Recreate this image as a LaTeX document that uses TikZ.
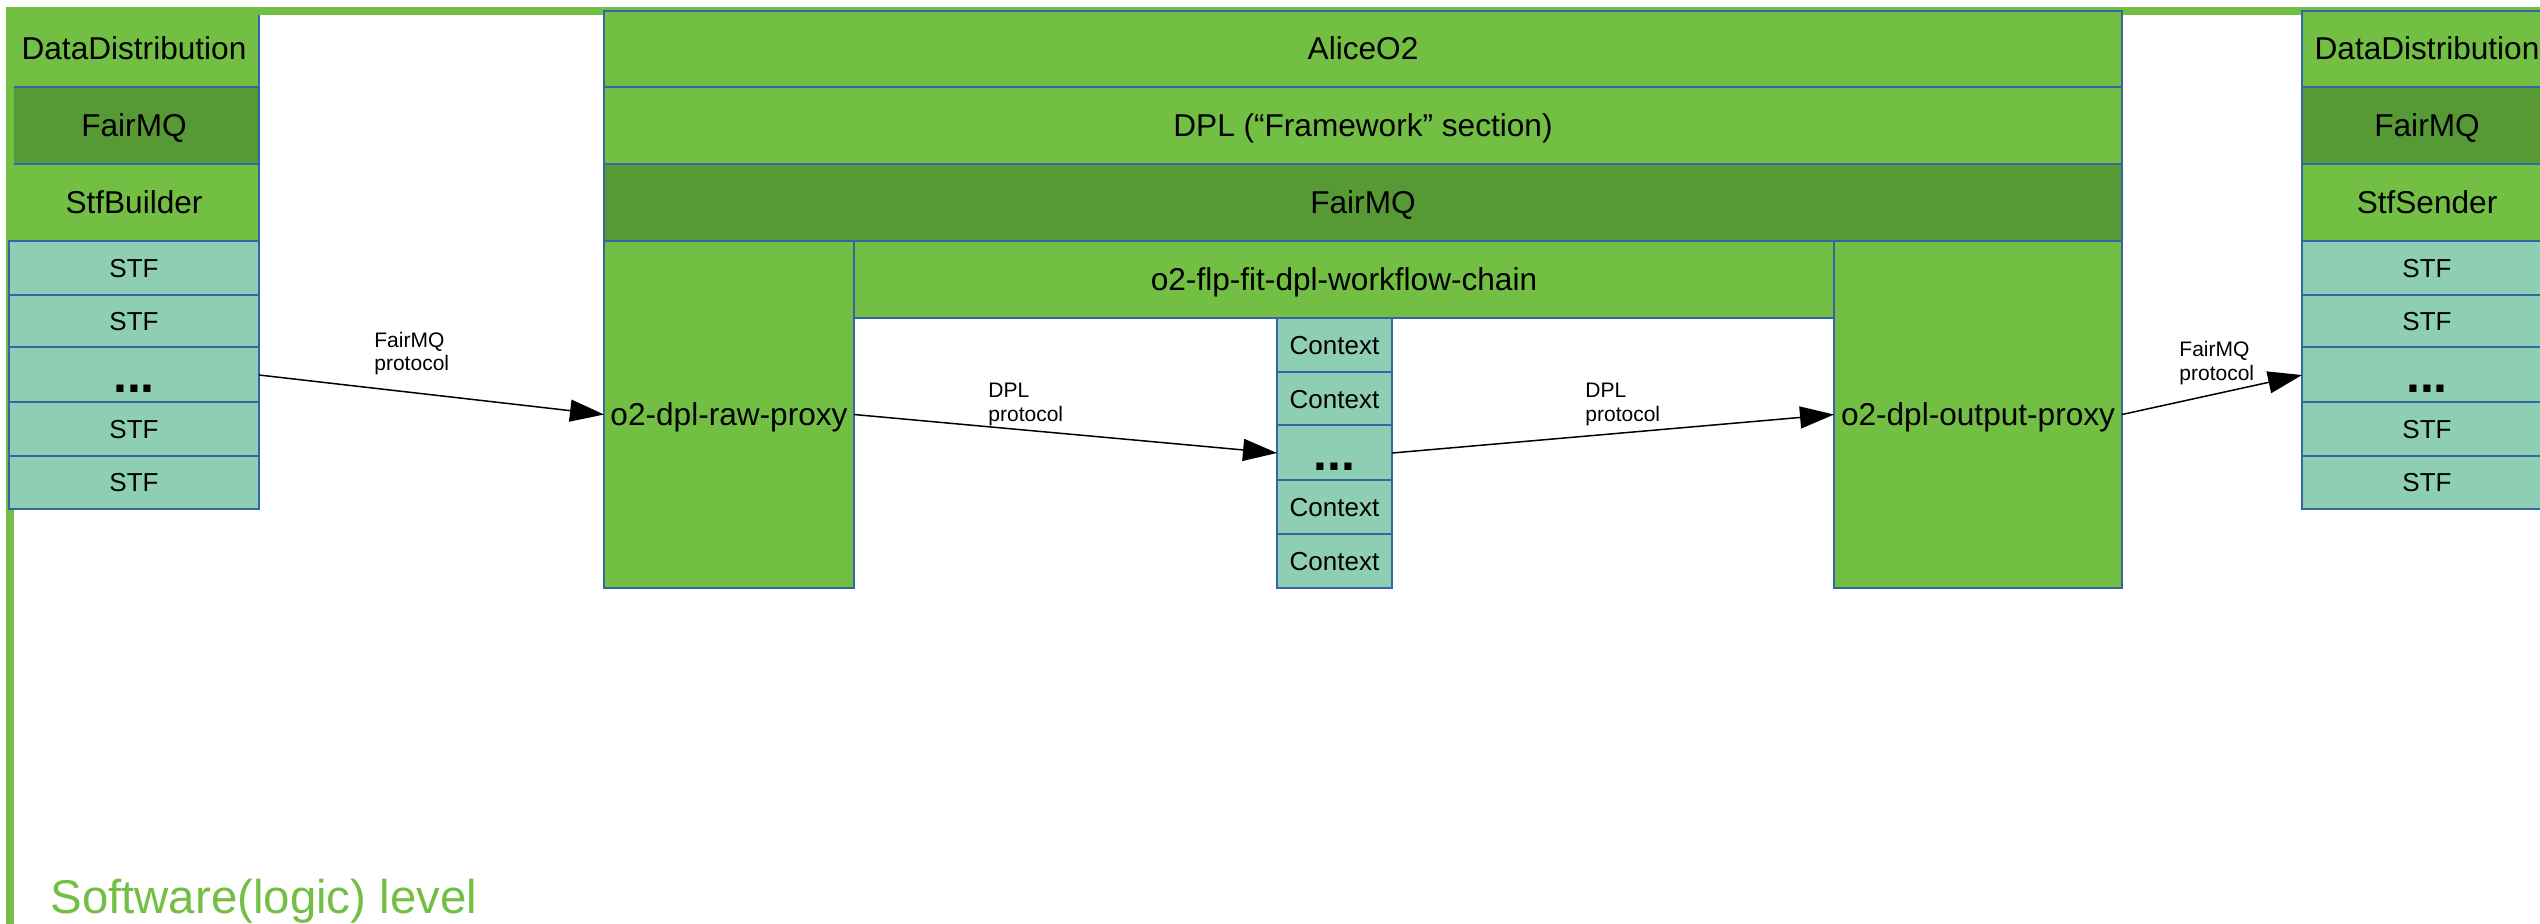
\documentclass[tikz,border=0pt]{standalone}
\usepackage{fontspec}
\setmainfont{Liberation Sans}
\usetikzlibrary{arrows.meta}
\definecolor{lgreen}{HTML}{72BF44}
\definecolor{dgreen}{HTML}{579935}
\definecolor{tealbox}{HTML}{8DCEB5}
\definecolor{bline}{HTML}{3465A4}
% \blkbox{style}{x1}{y1}{x2}{y2}{name}{text}
\newcommand{\blkbox}[7]{\node[#1, minimum width={(#4-#2)*0.5pt}, minimum height={(#5-#3)*0.5pt}] (#6) at ({(#2+#4)/2},{(#3+#5)/2}) {#7};}
\begin{document}
\begin{tikzpicture}[x=0.5pt,y=-0.5pt,
 box/.style={draw=bline, line width=0.7pt, inner sep=0pt, outer sep=0pt, anchor=center},
 big/.style={box, font=\fontsize{15.8}{18}\selectfont, text height=14.3pt, text depth=3.35pt},
 gbox/.style={big, fill=lgreen},
 dbox/.style={big, fill=dgreen},
 stfbox/.style={box, fill=tealbox, font=\fontsize{13}{15}\selectfont, text height=11.77pt, text depth=2.76pt},
 dotbox/.style={box, fill=tealbox, font=\fontsize{25}{30}\selectfont\bfseries, text height=22.6pt, text depth=5.3pt},
 lbl/.style={font=\fontsize{10.5}{12}\selectfont, inner sep=0pt, anchor=base west},
 arr/.style={line width=0.75pt, -{Triangle[length=17pt,width=11pt]}},
 frameline/.style={draw=lgreen, line width=4pt}
]
\clip (0,0) rectangle (2540,923);
% left column (upper rows, under the frame)
\blkbox{gbox}{9}{11}{259}{87}{ddl}{DataDistribution}
\blkbox{dbox}{9}{87}{259}{164}{fmql}{FairMQ}
\blkbox{gbox}{9}{164}{259}{241}{stfb}{StfBuilder}
% frame
\coordinate (fa) at (10,1000);
\coordinate (fb) at (10,11);
\coordinate (fc) at (2600,11);
\draw[frameline] (fa) -- (fb) -- (fc);
% left STF boxes
\blkbox{stfbox}{9}{241}{259}{295}{ls1}{STF}
\blkbox{stfbox}{9}{295}{259}{348}{ls2}{STF}
\blkbox{dotbox}{9}{348}{259}{402}{ldots}{...}
\blkbox{stfbox}{9}{402}{259}{456}{ls3}{STF}
\blkbox{stfbox}{9}{456}{259}{509}{ls4}{STF}
% middle
\blkbox{gbox}{604}{11}{2122}{87}{alice}{AliceO2}
\blkbox{gbox}{604}{87}{2122}{164}{dpl}{DPL (“Framework” section)}
\blkbox{dbox}{604}{164}{2122}{241}{fmqm}{FairMQ}
\blkbox{gbox}{604}{241}{854}{588}{raw}{o2-dpl-raw-proxy}
\blkbox{gbox}{854}{241}{1834}{318}{chain}{o2-flp-fit-dpl-workflow-chain}
\blkbox{gbox}{1834}{241}{2122}{588}{outp}{o2-dpl-output-proxy}
\blkbox{stfbox}{1277}{318}{1392}{372}{c1}{Context}
\blkbox{stfbox}{1277}{372}{1392}{426}{c2}{Context}
\blkbox{dotbox}{1277}{426}{1392}{480}{cdots}{...}
\blkbox{stfbox}{1277}{480}{1392}{534}{c3}{Context}
\blkbox{stfbox}{1277}{534}{1392}{588}{c4}{Context}
% right column
\blkbox{gbox}{2302}{11}{2552}{87}{ddr}{DataDistribution}
\blkbox{dbox}{2302}{87}{2552}{164}{fmqr}{FairMQ}
\blkbox{gbox}{2302}{164}{2552}{241}{stfs}{StfSender}
\blkbox{stfbox}{2302}{241}{2552}{295}{rs1}{STF}
\blkbox{stfbox}{2302}{295}{2552}{348}{rs2}{STF}
\blkbox{dotbox}{2302}{348}{2552}{402}{rdots}{...}
\blkbox{stfbox}{2302}{402}{2552}{456}{rs3}{STF}
\blkbox{stfbox}{2302}{456}{2552}{509}{rs4}{STF}
% connectors
\draw[arr] (ldots.east) -- (raw.west);
\draw[arr] (raw.east) -- (cdots.west);
\draw[arr] (cdots.east) -- (outp.west);
\draw[arr] (outp.east) -- (rdots.west);
% labels
\node[lbl] (l1a) at (374,347) {FairMQ};
\node[lbl] (l1b) at (374,370) {protocol};
\node[lbl] (l2a) at (988,397) {DPL};
\node[lbl] (l2b) at (988,421) {protocol};
\node[lbl] (l3a) at (1585,397) {DPL};
\node[lbl] (l3b) at (1585,421) {protocol};
\node[lbl] (l4a) at (2179,356) {FairMQ};
\node[lbl] (l4b) at (2179,380) {protocol};
% title
\node[anchor=base west, inner sep=0pt, text=lgreen, font=\fontsize{23.7}{28}\selectfont] (title) at (50,913) {Software(logic) level};
\end{tikzpicture}
\end{document}
